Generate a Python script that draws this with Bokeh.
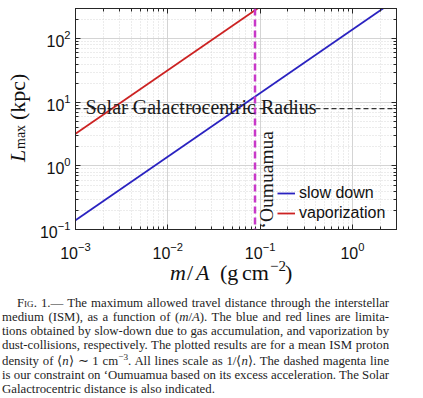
import math
from bokeh.plotting import figure
from bokeh.models import (LogAxis, LogTicker, Span, Label, Legend, LegendItem,
                          Div, Range1d)
from bokeh.layouts import column, row
from bokeh.embed import file_html
from bokeh.resources import INLINE

# ---- data ----
mass_per_area = [1e-3, 3.0]           # m/A  (g cm^-2)
slow_down_L = [0.14, 420.0]           # L_max (kpc), slow-down limit
vap_mass_per_area = [1e-3, 0.1]
vaporization_L = [3.2, 320.0]         # L_max (kpc), vaporization limit
oumuamua_mA = 0.088                   # constraint on 'Oumuamua
solar_radius_kpc = 8.0                # Solar Galactocentric radius
x_limits = (1e-3, 3.0)
y_limits = (0.1, 300.0)

BLUE = "#2a22c0"
RED = "#cc2222"
MAGENTA = "#c838c8"
AX = "#262626"
SERIF = "Liberation Serif"
SANS = "Liberation Sans"

p = figure(x_axis_type="log", y_axis_type="log",
           x_range=Range1d(*x_limits), y_range=Range1d(*y_limits),
           frame_width=321, frame_height=221,
           min_border_left=37, min_border_right=20,
           min_border_top=8, min_border_bottom=33,
           output_backend="svg", toolbar_location=None, margin=0)
p.background_fill_color = "white"
p.border_fill_color = "white"
p.outline_line_color = AX
p.outline_line_width = 1

def style_axis(ax, labels=True):
    ax.ticker = LogTicker(num_minor_ticks=10, desired_num_ticks=4)
    ax.axis_line_color = AX
    ax.major_tick_line_color = AX
    ax.minor_tick_line_color = AX
    ax.major_tick_in = 5
    ax.major_tick_out = 0
    ax.minor_tick_in = 3
    ax.minor_tick_out = 0
    if labels:
        ax.major_label_text_font = SANS
        ax.major_label_text_font_size = "16px"
        ax.major_label_text_color = "#111111"
    else:
        ax.major_label_text_font_size = "1px"
        ax.major_label_text_alpha = 0
        ax.major_label_standoff = 0

style_axis(p.xaxis[0])
style_axis(p.yaxis[0])
p.xaxis[0].major_label_standoff = 12
p.yaxis[0].major_label_standoff = 5

top_ax = LogAxis()
style_axis(top_ax, labels=False)
right_ax = LogAxis()
style_axis(right_ax, labels=False)
p.add_layout(top_ax, "above")
p.add_layout(right_ax, "right")

for g in (p.xgrid[0], p.ygrid[0]):
    g.ticker = LogTicker(num_minor_ticks=10, desired_num_ticks=4)
    g.grid_line_color = "#d4d4d4"
    g.grid_line_width = 1
    g.minor_grid_line_color = "#d8d8d8"
    g.minor_grid_line_dash = "1 2"

# ---- lines ----
r_blue = p.line(mass_per_area, slow_down_L, line_color=BLUE, line_width=1.8)
r_red = p.line(vap_mass_per_area, vaporization_L, line_color=RED, line_width=1.8)

p.add_layout(Span(location=solar_radius_kpc, dimension="width",
                  line_color="#333333", line_width=1.2, line_dash="5 3"))
p.add_layout(Span(location=oumuamua_mA, dimension="height",
                  line_color=MAGENTA, line_width=2.5, line_dash="7 4"))

# ---- in-plot annotations ----
p.add_layout(Label(x=x_limits[0], y=solar_radius_kpc, x_offset=10, y_offset=2,
                   text="Solar Galactrocentric Radius", text_font=SERIF,
                   text_font_size="20px", text_color="#1a1a1a",
                   text_baseline="alphabetic", text_align="left"))
p.add_layout(Label(x=oumuamua_mA, y=y_limits[0], x_offset=1, y_offset=1,
                   angle=math.pi / 2, text="\u2018Oumuamua", text_font=SERIF,
                   text_font_size="19.5px", text_color="#1a1a1a",
                   text_baseline="top", text_align="left"))

legend = Legend(items=[LegendItem(label="slow down", renderers=[r_blue]),
                       LegendItem(label="vaporization", renderers=[r_red])],
                location=(202, 6), padding=0, margin=0, spacing=0,
                glyph_width=18, glyph_height=20, label_height=20,
                label_standoff=4, label_text_font=SANS,
                label_text_font_size="16px", label_text_color="#111111",
                background_fill_alpha=0, border_line_alpha=0)
p.add_layout(legend)

# ---- axis titles (HTML so that italic / sub / sup can be mixed) ----
FONT = "font-family: 'Liberation Serif', serif; color: #111;"
def rot(txt, left, top, size, extra=""):
    return (f'<span style="position:absolute; left:{left}px; top:{top}px; '
            f'font-size:{size}px; line-height:{size}px; white-space:nowrap; '
            f'transform-origin: 0 0; transform: rotate(-90deg); {extra}">{txt}</span>')

ylab_html = ('<div style="position:relative; width:36px; height:262px; ' + FONT + '">'
             + rot("L", 7, 162, 22, "font-style:italic;")
             + rot("max", 14, 149, 14)
             + rot("(kpc)", 7, 120, 22)
             + '</div>')
ylab = Div(text=ylab_html, width=36, height=262, margin=0)

def flat(txt, left, top, size, extra=""):
    return (f'<span style="position:absolute; left:{left}px; top:{top}px; '
            f'font-size:{size}px; line-height:{size}px; white-space:nowrap; {extra}">{txt}</span>')

xlab_html = ('<div style="position:relative; width:414px; height:24px; ' + FONT + '">'
             + flat("m", 170, 0, 22, "font-style:italic;")
             + flat("/", 187, 0, 22)
             + flat("A", 196, 0, 22, "font-style:italic;")
             + flat("(g", 220, 0, 22)
             + flat("cm", 242, 0, 22)
             + flat("\u22122", 270, -3, 15)
             + flat(")", 285, 0, 22)
             + '</div>')
xlab = Div(text=xlab_html, width=414, height=24, margin=0)

# ---- caption ----
J = "text-align: justify; text-align-last: justify; white-space: nowrap;"
lines = [
    f'<div style="{J} padding-left: 15px;"><span style="font-variant: small-caps;">Fig</span>. 1.\u2014 The maximum allowed travel distance through the interstellar</div>',
    f'<div style="{J}">medium (ISM), as a function of (<i>m</i>/<i>A</i>). The blue and red lines are limita-</div>',
    f'<div style="{J}">tions obtained by slow-down due to gas accumulation, and vaporization by</div>',
    f'<div style="{J}">dust-collisions, respectively. The plotted results are for a mean ISM proton</div>',
    f'<div style="{J} margin-top: 2px;">density of \u27e8<i>n</i>\u27e9 \u223c 1 cm<sup style="font-size: 0.72em; line-height: 0;">\u22123</sup>. All lines scale as 1/\u27e8<i>n</i>\u27e9. The dashed magenta line</div>',
    f'<div style="{J}">is our constraint on \u2018Oumuamua based on its excess acceleration. The Solar</div>',
    '<div style="text-align: left;">Galactrocentric distance is also indicated.</div>',
]
caption = Div(text="".join(lines), width=414, height=110, margin=0,
              styles={"font-family": "'Liberation Serif', serif",
                      "font-size": "12.8px", "line-height": "14px",
                      "color": "#1e1e1e", "padding-top": "10px",
                      "padding-left": "2px",
                      "overflow": "hidden", "box-sizing": "border-box"})

layout = column(row(ylab, p, spacing=0, margin=0), xlab, caption, spacing=0, margin=0)
open("out.html", "w").write(file_html(layout, INLINE))
